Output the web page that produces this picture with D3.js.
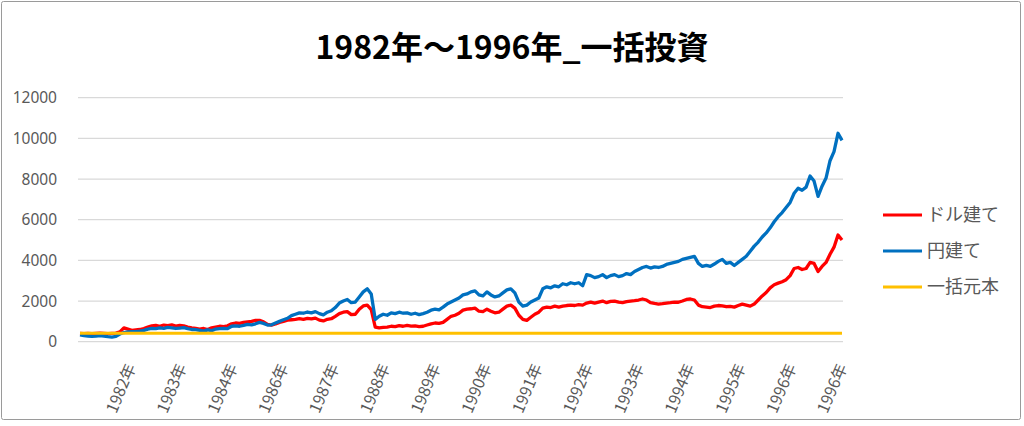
<!DOCTYPE html>
<html><head><meta charset="utf-8">
<script src="https://cdn.jsdelivr.net/npm/d3@7"></script>
<style>
html,body{margin:0;padding:0;background:#fff;}
svg{display:block;}
text{font-family:"Noto Sans CJK JP","Noto Sans",sans-serif;}
</style></head>
<body>
<svg id="c" width="1024" height="426"></svg>
<script>
const title = "1982年～1996年_一括投資";
const xLabels = ["1982年","1983年","1984年","1986年","1987年","1988年","1989年","1990年","1991年","1992年","1993年","1994年","1995年","1996年","1996年"];
const yTicks = [0,2000,4000,6000,8000,10000,12000];
const seriesNames = ["ドル建て","円建て","一括元本"];
const seriesColors = ["#ff0000","#0070c0","#ffc000"];
const principal = 410;
const yenValues = [
330,300,280,260,270,300,280,250,230,260,
380,450,480,500,490,520,560,620,650,640,
680,660,700,680,650,670,690,640,600,590,
560,520,580,540,620,640,660,640,760,780,
760,800,850,830,880,950,900,820,830,920,
1000,1080,1150,1280,1350,1420,1400,1460,1420,1480,
1380,1320,1450,1520,1680,1900,2000,2080,1920,1950,
2200,2450,2600,2350,
1100,1250,1350,1300,1420,1380,
1450,1400,1420,1350,1400,1330,1380,1450,1550,1600,
1570,1700,1850,1950,2050,2150,2300,2350,2450,2500,
2300,2250,2450,2300,2200,2250,2400,2550,2600,2400,
1950,1750,1800,1950,2050,2150,2600,2700,2650,2750,
2700,2850,2800,2900,2850,2900,2750,3300,3250,3150,
3200,3300,3150,3250,3300,3200,3250,3350,3300,3450,
3550,3650,3700,3620,3680,3650,3700,3800,3850,3900,
3950,4050,4100,4150,4200,3850,3700,3750,3700,3820,
3950,4050,3850,3900,3750,3900,4050,4200,4450,4700,
4900,5150,5350,5600,5900,6150,6350,6600,6850,7300,
7550,7450,7600,8150,7900,7150,7650,8050,8900,9350,
10250,9900];
const dollarValues = [
410,400,410,400,410,420,410,400,410,420,
480,680,620,560,580,600,650,720,780,800,
760,820,790,830,770,800,780,720,680,650,
620,650,600,680,720,760,740,780,880,920,
900,950,980,1000,1050,1050,980,850,820,870,
950,1000,1060,1080,1100,1130,1100,1150,1120,1160,
1060,1020,1100,1130,1250,1380,1450,1480,1330,1350,
1600,1760,1800,1580,
720,680,700,720,760,740,
790,760,800,770,780,740,760,820,880,920,
900,950,1100,1250,1300,1400,1550,1600,1620,1650,
1500,1480,1600,1500,1420,1450,1600,1750,1800,1650,
1300,1100,1050,1200,1350,1450,1650,1700,1680,1750,
1700,1750,1780,1800,1780,1820,1800,1900,1950,1900,
1950,2000,1920,1980,2000,1950,1920,1970,2000,2020,
2050,2100,2050,1920,1880,1850,1870,1900,1920,1950,
1940,2000,2080,2100,2050,1800,1720,1700,1680,1750,
1780,1760,1720,1740,1700,1780,1850,1800,1750,1850,
2050,2250,2420,2650,2800,2880,2950,3050,3250,3600,
3650,3550,3600,3900,3850,3450,3700,3900,4300,4650,
5250,5000];

const svg = d3.select("#c");
svg.append("rect").attr("x",1.5).attr("y",1.5).attr("width",1019).attr("height",418)
  .attr("fill","#fff").attr("stroke","#9a9a9a").attr("stroke-width",1).attr("rx",2);

const L = 78, R = 843, T = 97.7, B = 341.7;
const n = yenValues.length;
const x = d3.scaleLinear().domain([0, n-1]).range([80, 842]);
const y = d3.scaleLinear().domain([0, 12000]).range([B, T]);
const slot = d3.scaleLinear().domain([0, xLabels.length]).range([80, 842]);

// gridlines
svg.append("g").selectAll("line").data(yTicks).join("line")
  .attr("x1",L).attr("x2",R).attr("y1",d=>y(d)).attr("y2",d=>y(d))
  .attr("stroke","#d9d9d9").attr("stroke-width",1.3);

// y labels
const yAxis = d3.axisLeft(y).tickValues(yTicks).tickSize(0).tickPadding(0).tickFormat(d3.format("d"));
const gy = svg.append("g").attr("transform","translate(57,0)").call(yAxis);
gy.select(".domain").remove();
gy.selectAll("text").attr("fill","#595959").style("font-size","15.5px")
  .style("font-family","'Noto Sans','Noto Sans CJK JP',sans-serif");

// x labels
const xAxis = d3.axisBottom(slot).tickValues(d3.range(1, xLabels.length+1)).tickSize(0)
  .tickFormat(d => xLabels[d-1]);
const gx = svg.append("g").attr("transform",`translate(0,${B})`).call(xAxis);
gx.select(".domain").remove();
gx.selectAll("text").attr("fill","#595959").style("font-size","16px")
  .attr("text-anchor","end").attr("y",0).attr("dy",0)
  .attr("transform","translate(5,25) rotate(-67)");

// lines
const line = d3.line().x((d,i)=>x(i)).y(d=>y(d));
svg.append("path").datum(dollarValues).attr("d",line).attr("fill","none")
  .attr("stroke",seriesColors[0]).attr("stroke-width",3.3).attr("stroke-linejoin","round");
svg.append("path").datum(yenValues).attr("d",line).attr("fill","none")
  .attr("stroke",seriesColors[1]).attr("stroke-width",3.3).attr("stroke-linejoin","round");
svg.append("line").attr("x1",x(0)).attr("x2",x(n-1)).attr("y1",y(principal)).attr("y2",y(principal))
  .attr("stroke",seriesColors[2]).attr("stroke-width",3);

// title
svg.append("text").attr("x",512).attr("y",59).attr("text-anchor","middle")
  .style("font-size","32px").style("font-weight","bold").attr("fill","#000").text(title);

// legend
const lg = svg.append("g");
seriesNames.forEach((s,i)=>{
  const yy = 215 + i*36;
  lg.append("line").attr("x1",883).attr("x2",922).attr("y1",yy).attr("y2",yy)
    .attr("stroke",seriesColors[i]).attr("stroke-width",3);
  lg.append("text").attr("x",927).attr("y",yy).attr("dy","0.35em")
    .style("font-size","18px").attr("fill","#595959").text(s);
});
</script>
</body></html>
